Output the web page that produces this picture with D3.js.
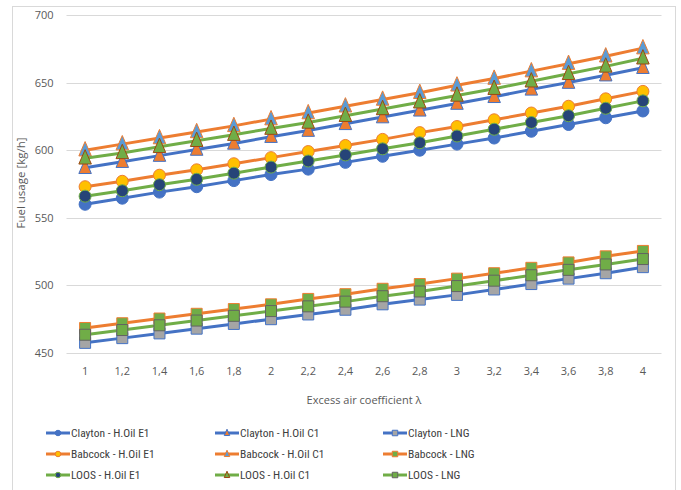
<!DOCTYPE html>
<html>
<head>
<meta charset="utf-8">
<script src="https://cdn.jsdelivr.net/npm/d3@7"></script>
<style>
  html, body { margin: 0; padding: 0; background: #fff; }
  svg { display: block; }
  .tick text { font-family: "Open Sans", sans-serif; font-size: 11px; fill: #595959; }
</style>
</head>
<body>
<svg id="chart" width="681" height="490"></svg>
<script>
// Excess air coefficient values (category labels on the x axis)
const lambdas = ["1","1,2","1,4","1,6","1,8","2","2,2","2,4","2,6","2,8","3","3,2","3,4","3,6","3,8","4"];

// Fuel usage [kg/h] per burner / fuel combination
const claytonE1  = [560, 564.5, 569, 573, 577.5, 582, 586, 591, 595.5, 600, 604.5, 609, 614, 619, 624, 629];
const claytonC1  = [587, 591.5, 596, 600.5, 605, 610, 614.5, 619.5, 624.5, 629.5, 634.5, 639.5, 645, 650, 655.5, 661];
const claytonLNG = [457.5, 461, 464.5, 468, 471.5, 475, 478.5, 482, 486, 489.5, 493, 497, 501, 505, 509, 513.5];
const babcockE1  = [573, 577, 581.5, 585.5, 590, 594.5, 599, 603.5, 608, 613, 617.5, 622.5, 627.5, 632.5, 638, 643.5];
const babcockC1  = [600, 604.5, 609, 613.5, 618, 623, 627.5, 632.5, 637.5, 642.5, 648, 653, 658.5, 664, 669.5, 675.5];
const babcockLNG = [468.5, 472, 475.5, 479, 482.5, 486, 490, 493.5, 497.5, 501, 505, 509, 513, 517, 521.5, 525.5];
const loosE1     = [566, 570, 574.5, 578.5, 583, 587.5, 592, 596.5, 601, 605.5, 610.5, 615.5, 620.5, 625.5, 631, 636.5];
const loosC1     = [594, 598, 602.5, 607, 611.5, 616, 620.5, 625.5, 630.5, 635.5, 640.5, 645.5, 651, 656.5, 662, 668];
const loosLNG    = [463.5, 467, 470.5, 474, 477.5, 481, 484.5, 488, 492, 495.5, 499.5, 503.5, 507.5, 511.5, 515.5, 519.5];

const yTicks = [450, 500, 550, 600, 650, 700];

const BLUE = "#4472C4", ORANGE = "#ED7D31", GREEN = "#70AD47";

const series = [
  { name: "Clayton - H.Oil E1", values: claytonE1,  line: BLUE,   shape: "circle",   fill: BLUE,      stroke: BLUE },
  { name: "Clayton - H.Oil C1", values: claytonC1,  line: BLUE,   shape: "triangle", fill: ORANGE,    stroke: BLUE },
  { name: "Clayton - LNG",      values: claytonLNG, line: BLUE,   shape: "square",   fill: "#A5A5A5", stroke: BLUE },
  { name: "Babcock - H.Oil E1", values: babcockE1,  line: ORANGE, shape: "circle",   fill: "#FFC000", stroke: ORANGE },
  { name: "Babcock - H.Oil C1", values: babcockC1,  line: ORANGE, shape: "triangle", fill: "#5B9BD5", stroke: ORANGE },
  { name: "Babcock - LNG",      values: babcockLNG, line: ORANGE, shape: "square",   fill: GREEN,     stroke: ORANGE },
  { name: "LOOS - H.Oil E1",    values: loosE1,     line: GREEN,  shape: "circle",   fill: "#264478", stroke: GREEN },
  { name: "LOOS - H.Oil C1",    values: loosC1,     line: GREEN,  shape: "triangle", fill: GREEN,     stroke: "#9E480E" },
  { name: "LOOS - LNG",         values: loosLNG,    line: GREEN,  shape: "square",   fill: GREEN,     stroke: "#636363" }
];

const svg = d3.select("#chart");

// outer chart frame
svg.append("rect")
  .attr("x", 12.5).attr("y", 6.5).attr("width", 663).attr("height", 490)
  .attr("fill", "#fff").attr("stroke", "#d9d9d9").attr("stroke-width", 1);

const plot = { left: 66.5, right: 661.5, top: 15, bottom: 353 };

const x = d3.scaleBand().domain(lambdas).range([plot.left, plot.right]);
const y = d3.scaleLinear().domain([450, 700]).range([plot.bottom, plot.top]);
const cx = d => x(d) + x.bandwidth() / 2;

// horizontal gridlines
svg.append("g")
  .selectAll("line").data(yTicks).join("line")
  .attr("x1", plot.left).attr("x2", plot.right)
  .attr("y1", d => Math.round(y(d)) + 0.5).attr("y2", d => Math.round(y(d)) + 0.5)
  .attr("stroke", "#d9d9d9").attr("stroke-width", 1);

// y axis (labels only)
const yAxis = svg.append("g")
  .attr("transform", `translate(${plot.left - 9},0)`)
  .call(d3.axisLeft(y).tickValues(yTicks).tickSize(0).tickPadding(4));
yAxis.select(".domain").remove();

// x axis (labels only)
const xAxis = svg.append("g")
  .attr("transform", `translate(0,${plot.bottom + 6})`)
  .call(d3.axisBottom(x).tickSize(0).tickPadding(8));
xAxis.select(".domain").remove();

// axis titles
svg.append("text")
  .attr("transform", "translate(25,183) rotate(-90)")
  .attr("text-anchor", "middle")
  .attr("font-family", "Open Sans, sans-serif").attr("font-size", 11.5).attr("fill", "#595959")
  .text("Fuel usage [kg/h]");

svg.append("text")
  .attr("x", 364).attr("y", 404)
  .attr("text-anchor", "middle")
  .attr("font-family", "Open Sans, sans-serif").attr("font-size", 11).attr("fill", "#595959")
  .text("Excess air coefficient λ");

// marker symbol generators
function markerPath(shape, size) {
  if (shape === "circle") return d3.symbol(d3.symbolCircle, size * size * Math.PI / 4)();
  if (shape === "square") return d3.symbol(d3.symbolSquare, size * size)();
  const h = size * 1.15, w = size;
  return `M0,${-h * 0.6}L${w / 2},${h * 0.4}L${-w / 2},${h * 0.4}Z`;
}

const line = d3.line().x((d, i) => cx(lambdas[i])).y(d => y(d));

const groups = svg.append("g").selectAll("g").data(series).join("g");

groups.each(function (s) {
  const g = d3.select(this);
  g.append("path")
    .attr("d", line(s.values))
    .attr("fill", "none").attr("stroke", s.line).attr("stroke-width", 3)
    .attr("stroke-linejoin", "round");
  const size = s.shape === "circle" ? 12 : (s.shape === "square" ? 11 : 12.5);
  g.selectAll("path.mk").data(s.values).join("path").attr("class", "mk")
    .attr("transform", (d, i) => `translate(${cx(lambdas[i])},${y(d)})`)
    .attr("d", markerPath(s.shape, size))
    .attr("fill", s.fill).attr("stroke", s.stroke).attr("stroke-width", 1);
});

// legend: three columns, three rows
const legendCols = [46, 215, 383];
const legendRows = [433, 454, 475];
const legend = svg.append("g").selectAll("g").data(series).join("g")
  .attr("transform", (d, i) => `translate(${legendCols[i % 3]},${legendRows[Math.floor(i / 3)]})`);

legend.append("line")
  .attr("x1", 0).attr("x2", 24).attr("y1", 0).attr("y2", 0)
  .attr("stroke", d => d.line).attr("stroke-width", 3);
legend.append("path")
  .attr("transform", "translate(12,0)")
  .attr("d", d => markerPath(d.shape, 5.5))
  .attr("fill", d => d.fill).attr("stroke", d => d.stroke).attr("stroke-width", 1);
legend.append("text")
  .attr("x", 25).attr("y", 0).attr("dy", "0.35em")
  .attr("font-family", "Liberation Sans Narrow, Roboto Condensed, sans-serif").attr("font-size", 11.5)
  .attr("fill", "#404040")
  .text(d => d.name);
</script>
</body>
</html>
